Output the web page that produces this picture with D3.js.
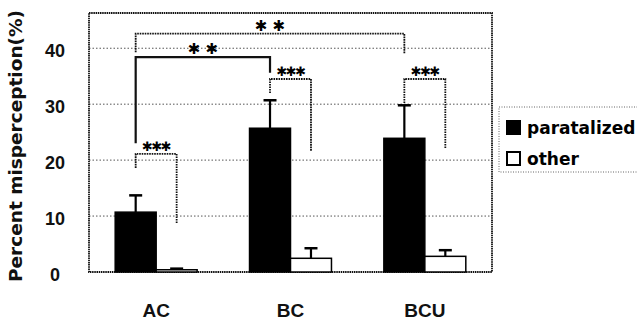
<!DOCTYPE html>
<html>
<head>
<meta charset="utf-8">
<script src="https://cdn.jsdelivr.net/npm/d3@7"></script>
<style>
  html, body { margin: 0; padding: 0; background: #fff; }
  svg { display: block; }
</style>
</head>
<body>
<div id="chart"></div>
<script>
// ─── Data ───────────────────────────────────────────────────
const categories = ["AC", "BC", "BCU"];
const seriesNames = ["paratalized", "other"];
const paratalized = [10.7, 25.7, 23.9];
const paratalizedErr = [3.0, 5.0, 5.9];
const other = [0.4, 2.45, 2.8];
const otherErr = [0.2, 1.8, 1.1];
const yTicks = [0, 10, 20, 30, 40];
const yMax = 46.3;

// significance brackets: [category, series] for each end, heights in %
const brackets = [
  { from: ["AC", "paratalized"], to: ["AC", "other"], top: 21.1, leftEnd: 18.6, rightEnd: 8.7, label: "✱✱✱", dotted: true },
  { from: ["BC", "paratalized"], to: ["BC", "other"], top: 34.5, leftEnd: 32.0, rightEnd: 21.6, label: "✱✱✱", dotted: true },
  { from: ["BCU", "paratalized"], to: ["BCU", "other"], top: 34.5, leftEnd: 30.2, rightEnd: 22.1, label: "✱✱✱", dotted: true },
  { from: ["AC", "paratalized"], to: ["BC", "paratalized"], top: 38.4, leftEnd: 23.0, rightEnd: 35.6, label: "✱ ✱", dotted: false },
  { from: ["AC", "paratalized"], to: ["BCU", "paratalized"], top: 42.6, leftEnd: 39.3, rightEnd: 39.1, label: "✱ ✱", dotted: true }
];

// ─── Layout ─────────────────────────────────────────────────
const W = 637, H = 322;
const plot = { left: 89, top: 13, right: 492, bottom: 272 };

const svg = d3.select("#chart").append("svg")
  .attr("width", W).attr("height", H);

const x = d3.scaleBand().domain(categories)
  .range([plot.left, plot.right])
  .paddingInner(0.39).paddingOuter(0.195);
const xs = d3.scaleBand().domain(seriesNames).range([0, x.bandwidth()]);
const y = d3.scaleLinear().domain([0, yMax]).range([plot.bottom, plot.top]);

const cx = (cat, ser) => x(cat) + xs(ser) + xs.bandwidth() / 2;

// gridlines
svg.append("g").selectAll("line")
  .data(yTicks.filter(t => t > 0))
  .join("line")
  .attr("x1", plot.left).attr("x2", plot.right)
  .attr("y1", d => y(d)).attr("y2", d => y(d))
  .attr("stroke", "#555").attr("stroke-width", 1)
  .attr("stroke-dasharray", "1.5,2");

// frame
svg.append("rect")
  .attr("x", plot.left).attr("y", plot.top)
  .attr("width", plot.right - plot.left).attr("height", plot.bottom - plot.top)
  .attr("fill", "none").attr("stroke", "#111").attr("stroke-width", 1.8)
  .attr("stroke-dasharray", "1.5,0.7");

// y axis tick labels
const yAxis = d3.axisLeft(y).tickValues(yTicks).tickSize(0).tickPadding(0);
svg.append("g")
  .attr("transform", `translate(${plot.left - 34},0)`)
  .call(yAxis)
  .call(g => g.select(".domain").remove())
  .call(g => g.selectAll("text")
    .attr("text-anchor", "middle").attr("dy", "0.45em")
    .attr("font-family", "Liberation Sans, Arial, sans-serif")
    .attr("font-weight", "bold").attr("font-size", 18).attr("fill", "#111"));

// x axis labels
const xAxis = d3.axisBottom(x).tickSize(0).tickPadding(0);
svg.append("g")
  .attr("transform", `translate(0,${plot.bottom + 31})`)
  .call(xAxis)
  .call(g => g.select(".domain").remove())
  .call(g => g.selectAll("text")
    .attr("font-family", "Liberation Sans, Arial, sans-serif")
    .attr("font-weight", "bold").attr("font-size", 19).attr("fill", "#111"));

// y label
svg.append("text")
  .attr("transform", `translate(22,${(10 + 282) / 2}) rotate(-90)`)
  .attr("text-anchor", "middle")
  .attr("font-family", "DejaVu Sans, sans-serif")
  .attr("font-weight", "bold").attr("font-size", 18.5).attr("fill", "#111")
  .text("Percent misperception(%)");

// bars
const rows = categories.map((c, i) => [
  { cat: c, ser: "paratalized", v: paratalized[i], e: paratalizedErr[i] },
  { cat: c, ser: "other", v: other[i], e: otherErr[i] }
]).flat();

// error bars (drawn first so bar edges cover the base)
const eb = svg.append("g").attr("stroke", "#000");
eb.selectAll("line.stem").data(rows).join("line").attr("class", "stem")
  .attr("x1", d => cx(d.cat, d.ser)).attr("x2", d => cx(d.cat, d.ser))
  .attr("y1", d => y(d.v)).attr("y2", d => y(d.v + d.e))
  .attr("stroke-width", 2.2);
eb.selectAll("line.cap").data(rows).join("line").attr("class", "cap")
  .attr("x1", d => cx(d.cat, d.ser) - 6.5).attr("x2", d => cx(d.cat, d.ser) + 6.5)
  .attr("y1", d => y(d.v + d.e)).attr("y2", d => y(d.v + d.e))
  .attr("stroke-width", 2.5);

svg.append("g").selectAll("rect").data(rows).join("rect")
  .attr("x", d => x(d.cat) + xs(d.ser))
  .attr("y", d => y(d.v))
  .attr("width", xs.bandwidth())
  .attr("height", d => y(0) - y(d.v))
  .attr("fill", d => d.ser === "paratalized" ? "#000" : "#fff")
  .attr("stroke", "#000").attr("stroke-width", 1.5);

// significance brackets
const bg = svg.append("g").attr("fill", "none");
brackets.forEach(b => {
  const x1 = cx(b.from[0], b.from[1]);
  const x2 = cx(b.to[0], b.to[1]);
  bg.append("path")
    .attr("d", `M${x1},${y(b.leftEnd)}V${y(b.top)}H${x2}V${y(b.rightEnd)}`)
    .attr("stroke", "#111").attr("stroke-width", b.dotted ? 1.8 : 2.2)
    .attr("stroke-dasharray", b.dotted ? "1.6,0.9" : null);
  const triple = b.label === "✱✱✱";
  svg.append("text")
    .attr("x", (x1 + x2) / 2).attr("y", y(b.top) - 8)
    .attr("text-anchor", "middle")
    .attr("font-family", "DejaVu Sans, sans-serif")
    .attr("font-weight", "bold")
    .attr("font-size", triple ? 13 : 15).attr("fill", "#000")
    .attr("dy", "0.35em")
    .attr("letter-spacing", triple ? -1.5 : 0)
    .text(b.label);
});

// legend
const lg = svg.append("g");
lg.append("rect")
  .attr("x", 499).attr("y", 107).attr("width", 150).attr("height", 65)
  .attr("fill", "#fff").attr("stroke", "#666").attr("stroke-width", 1)
  .attr("stroke-dasharray", "1,1.5");
seriesNames.forEach((s, i) => {
  const yy = 128 + i * 31;
  lg.append("rect")
    .attr("x", 507).attr("y", yy - 7).attr("width", 13).attr("height", 13)
    .attr("fill", s === "paratalized" ? "#000" : "#fff")
    .attr("stroke", "#000").attr("stroke-width", 2);
  lg.append("text")
    .attr("x", 527).attr("y", yy).attr("dy", "0.35em")
    .attr("font-family", "DejaVu Sans, sans-serif")
    .attr("font-weight", "bold").attr("font-size", 17).attr("fill", "#000")
    .text(s);
});
</script>
</body>
</html>
